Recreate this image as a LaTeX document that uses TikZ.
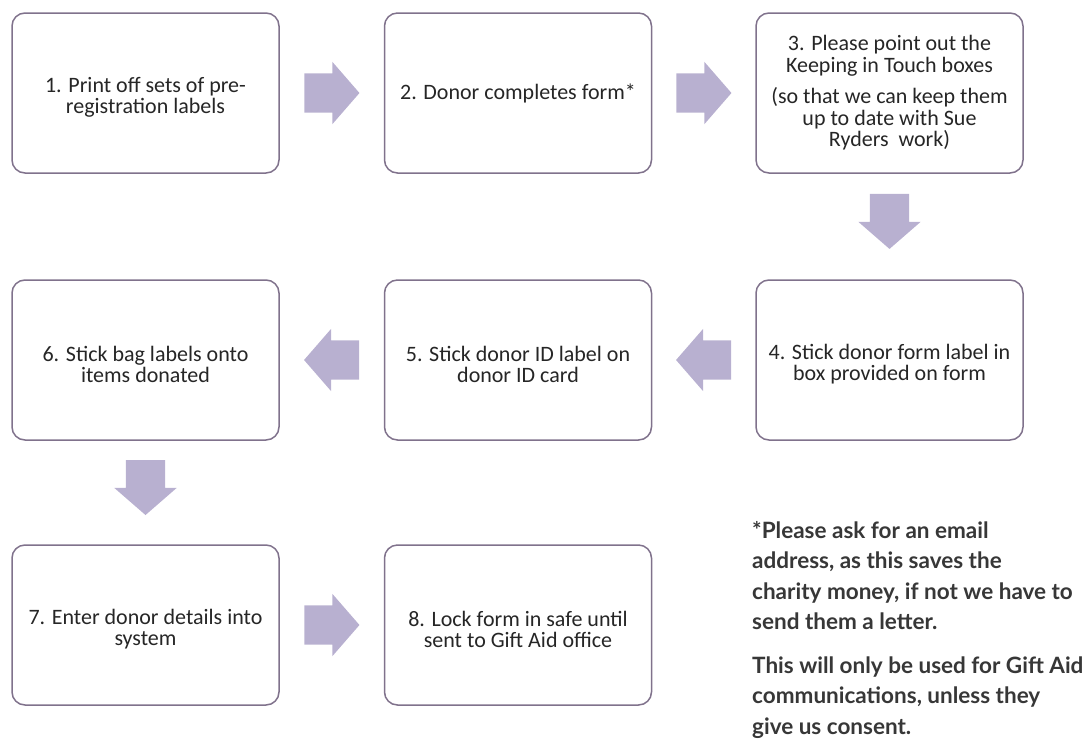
\documentclass[tikz,border=0pt]{standalone}
\usepackage{fontspec}
\setmainfont{Carlito}
\newfontfamily\notefont{Lato}
\usetikzlibrary{shapes.arrows,calc}
\definecolor{boxline}{RGB}{128,114,140}
\definecolor{arrowfill}{RGB}{184,176,208}
\definecolor{txt}{RGB}{38,38,38}
\definecolor{notetxt}{RGB}{55,55,55}
\newcommand{\lowr}{\rule{0pt}{24pt}}
\tikzset{
  stepbox/.style={draw=boxline, line width=1.5pt, rounded corners=13pt, fill=white,
    minimum width=267pt, minimum height=160pt, align=center, text=txt,
    font=\fontsize{22}{21.5}\selectfont, inner sep=0pt},
  blockarrow/.style={single arrow, fill=arrowfill, draw=none, anchor=tail,
    minimum height=55pt, inner xsep=0pt, inner ysep=19.5pt,
    single arrow head extend=11.5pt, single arrow tip angle=98,
    single arrow head indent=0pt},
  downarrow/.style={blockarrow, shape border rotate=270, inner xsep=19.5pt, inner ysep=0pt},
}
\begin{document}
\begin{tikzpicture}[x=1pt,y=-1pt]
\useasboundingbox (0,0) rectangle (1086,744);
% row 1
\node[stepbox] (b1) at (145.5,93) {\lowr 1. Print off sets of pre-\\registration labels};
\node[stepbox] (b2) at (518,93) {2. Donor completes form*};
\node[stepbox] (b3) at (889.5,93) {3. Please point out the\\Keeping in Touch boxes\\[10pt](so that we can keep them\\up to date with Sue\\Ryders\ \ work)};
% row 2
\node[stepbox] (b6) at (145.5,360) {\lowr 6. Stick bag labels onto\\items donated};
\node[stepbox] (b5) at (518,360) {\lowr 5. Stick donor ID label on\\donor ID card};
\node[stepbox] (b4) at (889.5,360) {\lowr 4. Stick donor form label in\\box provided on form};
% row 3
\node[stepbox] (b7) at (145.5,625) {\lowr 7. Enter donor details into\\system};
\node[stepbox] (b8) at (518,625) {\lowr 8. Lock form in safe until\\sent to Gift Aid office};
% arrows
\node[blockarrow] (a12) at ($(b1.east)!0.5!(b2.west)+(-27.5,0)$) {};
\node[blockarrow] (a23) at ($(b2.east)!0.5!(b3.west)+(-27.5,0)$) {};
\node[downarrow] (a34) at ($(b3.south)!0.45!(b4.north)+(0,-27.5)$) {};
\node[blockarrow, shape border rotate=180] (a45) at ($(b4.west)!0.5!(b5.east)+(27.5,0)$) {};
\node[blockarrow, shape border rotate=180] (a56) at ($(b5.west)!0.5!(b6.east)+(27.5,0)$) {};
\node[downarrow] (a67) at ($(b6.south)!0.45!(b7.north)+(0,-27.5)$) {};
\node[blockarrow] (a78) at ($(b7.east)!0.5!(b8.west)+(-27.5,0)$) {};
% note
\node[anchor=north west, align=left, text=notetxt, inner sep=0pt,
  font=\notefont\bfseries\fontsize{22.5}{30.5}\selectfont] (note) at (752,521)
  {*Please ask for an email\\address, as this saves the\\charity money, if not we have to\\send them a letter.\\[13pt]This will only be used for Gift Aid\\communications, unless they\\give us consent.};
\end{tikzpicture}
\end{document}
